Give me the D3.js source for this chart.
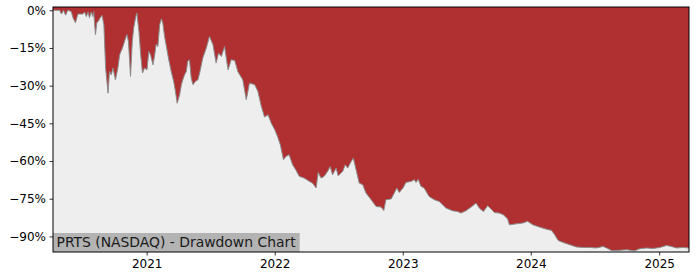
<!DOCTYPE html>
<meta charset="utf-8">
<style>
    body { margin: 0; background: #ffffff; }
    svg text { font-family: "DejaVu Sans", sans-serif; }
</style>

<!-- Load d3.js -->
<script src="https://d3js.org/d3.v7.min.js"></script>

<div id="chart"></div>

<script>
    // drawdown from running peak, percent
    var dates = [
        "2020-04-09", "2020-04-28", "2020-05-03", "2020-05-09", "2020-05-15", "2020-05-21", "2020-05-31",
        "2020-06-05", "2020-06-12", "2020-06-19", "2020-07-03", "2020-07-08", "2020-07-13", "2020-07-18",
        "2020-07-22", "2020-07-27", "2020-08-01", "2020-08-03", "2020-08-08", "2020-08-12", "2020-08-17",
        "2020-08-21", "2020-08-27", "2020-09-01", "2020-09-06", "2020-09-13", "2020-09-17", "2020-09-22",
        "2020-09-27", "2020-10-04", "2020-10-11", "2020-10-16", "2020-10-24", "2020-10-27", "2020-11-02",
        "2020-11-06", "2020-11-10", "2020-11-16", "2020-11-21", "2020-11-25", "2020-12-01", "2020-12-04",
        "2020-12-10", "2020-12-15", "2020-12-20", "2020-12-26", "2021-01-02", "2021-01-07", "2021-01-12",
        "2021-01-19", "2021-01-24", "2021-01-28", "2021-02-02", "2021-02-07", "2021-02-12", "2021-02-16",
        "2021-02-21", "2021-02-27", "2021-03-05", "2021-03-12", "2021-03-19", "2021-03-24", "2021-03-29",
        "2021-04-05", "2021-04-10", "2021-04-14", "2021-04-19", "2021-04-24", "2021-04-28", "2021-05-03",
        "2021-05-08", "2021-05-13", "2021-05-20", "2021-05-27", "2021-06-01", "2021-06-10", "2021-06-20",
        "2021-06-29", "2021-07-09", "2021-07-18", "2021-07-25", "2021-08-02", "2021-08-11", "2021-08-21",
        "2021-08-30", "2021-09-09", "2021-09-18", "2021-10-02", "2021-10-12", "2021-10-21", "2021-11-05",
        "2021-11-14", "2021-11-24", "2021-12-03", "2021-12-13", "2021-12-22", "2022-01-01", "2022-01-09",
        "2022-01-17", "2022-01-26", "2022-02-02", "2022-02-11", "2022-02-21", "2022-03-02", "2022-03-12",
        "2022-03-26", "2022-04-10", "2022-04-19", "2022-04-29", "2022-05-05", "2022-05-13", "2022-05-22",
        "2022-06-01", "2022-06-08", "2022-06-15", "2022-06-25", "2022-07-01", "2022-07-09", "2022-07-14",
        "2022-07-21", "2022-07-28", "2022-08-07", "2022-08-13", "2022-08-21", "2022-08-30", "2022-09-09",
        "2022-09-18", "2022-10-03", "2022-10-17", "2022-10-31", "2022-11-08", "2022-11-14", "2022-11-29",
        "2022-12-08", "2022-12-15", "2022-12-22", "2023-01-02", "2023-01-10", "2023-01-25", "2023-02-03",
        "2023-02-08", "2023-02-14", "2023-02-22", "2023-03-03", "2023-03-17", "2023-04-01", "2023-04-15",
        "2023-05-04", "2023-05-23", "2023-06-06", "2023-06-16", "2023-06-30", "2023-07-15", "2023-07-29",
        "2023-08-07", "2023-08-19", "2023-08-31", "2023-09-10", "2023-09-19", "2023-10-03", "2023-10-15",
        "2023-10-27", "2023-11-01", "2023-11-20", "2023-12-09", "2023-12-23", "2024-01-07", "2024-01-26",
        "2024-02-14", "2024-02-29", "2024-03-09", "2024-03-19", "2024-04-02", "2024-04-21", "2024-05-10",
        "2024-05-29", "2024-06-17", "2024-07-06", "2024-07-25", "2024-08-04", "2024-08-18", "2024-09-01",
        "2024-09-30", "2024-10-23", "2024-11-07", "2024-11-26", "2024-12-15", "2025-01-03", "2025-01-22",
        "2025-02-05", "2025-02-19", "2025-03-10", "2025-03-27"
    ];
    var drawdown = [
        0, 0, -1.5, 0, -2, 0, -0.5,
        -3, -5, -1.5, -1.5, -0.7, -2.5, -0.7,
        -3, -0.7, -2.5, -0.5, -9.7, -5, -4.2,
        -3.1, -2, -5.8, -23, -33, -24.4, -25.7,
        -23, -27.7, -23, -17.7, -15, -13.7, -11,
        -9.7, -12.4, -26.3, -12.4, -7.1, -2.5, -1.1,
        -8.4, -17.7, -25, -23, -23.7, -16.4, -17.7,
        -21.7, -17.7, -13.5, -14.4, -5.8, -3.4, -5.1,
        -10.4, -15, -19.7, -24.4, -28.3, -32.3, -37,
        -33.6, -29.6, -27.7, -25.7, -24.4, -20.4, -19.7,
        -27, -29.6, -28.3, -27.7, -25, -19, -15,
        -10.4, -13.7, -21, -17, -18.4, -14.4, -23.7,
        -19.7, -20, -24.4, -27.7, -35.6, -29, -29.6,
        -32.3, -38.3, -42.5, -41.6, -44.9, -47.5, -50.2,
        -53.5, -59.5, -58.2, -57.5, -61.5, -63.5, -66.1,
        -66.8, -68.1, -68.8, -70.7, -64.5, -66.8, -66.1,
        -64.1, -62.2, -65.5, -62.8, -65.9, -64.8, -64.1,
        -61.5, -62.8, -60.2, -58.8, -63.5, -68.8, -69.4,
        -72.7, -75.4, -78.1, -78.3, -79.7, -75.4, -75.1,
        -72.7, -70.7, -72.5, -70.7, -68.5, -68.1, -67.4,
        -68.5, -67.2, -70.1, -70.7, -74.1, -75.4, -76.1,
        -78.7, -79.8, -80.1, -80.7, -79.8, -78.3, -76.7,
        -78.7, -80.1, -77.8, -79.1, -80.5, -80.7, -81.4,
        -83.1, -85.4, -85, -84.7, -84, -85.4, -86.3,
        -87.1, -87.6, -89.3, -91.6, -92.4, -93.3, -94.2,
        -94.4, -94.4, -94.6, -94, -94.6, -95.6, -95.6,
        -95.3, -95.7, -94.9, -94.6, -94.8, -94.4, -93.6,
        -94, -94.6, -94.4, -94.6
    ];
    var yTicks = [0, -15, -30, -45, -60, -75, -90];
    var xTicks = ["2021-01-01", "2022-01-01", "2023-01-01", "2024-01-01", "2025-01-01"];
    var title = "PRTS (NASDAQ) - Drawdown Chart";

    var parse = d3.timeParse("%Y-%m-%d");
    var data = dates.map(function (d, i) { return { date: parse(d), dd: drawdown[i] }; });

    var margin = { top: 7, right: 11, bottom: 28, left: 53 },
        width = 700 - margin.left - margin.right,
        height = 280 - margin.top - margin.bottom;

    var svg = d3.select("#chart")
        .append("svg")
        .attr("width", 700)
        .attr("height", 280)
        .append("g")
        .attr("transform", "translate(" + margin.left + "," + margin.top + ")");

    var x = d3.scaleTime()
        .domain(d3.extent(data, function (d) { return d.date; }))
        .range([0, width]);

    var y = d3.scaleLinear()
        .domain([-96.2, 1.3])
        .range([height, 0]);

    // red everywhere above the curve, light grey below it
    svg.append("rect")
        .attr("width", width)
        .attr("height", height)
        .style("fill", "#b03032");

    var area = d3.area()
        .x(function (d) { return x(d.date); })
        .y0(height)
        .y1(function (d) { return y(d.dd); });

    svg.append("path")
        .datum(data)
        .attr("d", area)
        .style("fill", "#eeeeee");

    var line = d3.line()
        .x(function (d) { return x(d.date); })
        .y(function (d) { return y(d.dd); });

    svg.append("path")
        .datum(data)
        .attr("d", line)
        .style("fill", "none")
        .attr("stroke", "#8c8c8c")
        .attr("stroke-width", 1);

    // title label in the lower left corner
    var label = svg.append("g");
    var labelText = label.append("text")
        .attr("x", 3.5)
        .attr("y", height - 5)
        .attr("font-size", "13.9px")
        .attr("fill", "#1a1a1a")
        .text(title);
    var bb = labelText.node().getBBox();
    label.insert("rect", "text")
        .attr("x", 0)
        .attr("y", height - 19)
        .attr("width", bb.width + 7)
        .attr("height", 19)
        .style("fill", "#b3b3b3");

    // axes
    var yAxis = svg.append("g")
        .call(d3.axisLeft(y)
            .tickValues(yTicks)
            .tickSize(3.5)
            .tickPadding(3.5)
            .tickFormat(function (d) { return (d < 0 ? "\u2212" + (-d) : d) + "%"; }));

    var xAxis = svg.append("g")
        .attr("transform", "translate(0," + height + ")")
        .call(d3.axisBottom(x)
            .tickValues(xTicks.map(parse))
            .tickSize(3.5)
            .tickPadding(3.5)
            .tickFormat(d3.timeFormat("%Y")));

    svg.selectAll(".tick text")
        .attr("font-size", "12px")
        .attr("font-family", "DejaVu Sans, sans-serif")
        .attr("fill", "#000");
    svg.selectAll(".tick line").attr("stroke", "#000").attr("stroke-width", 0.8);
    svg.selectAll(".domain").remove();

    // frame around the plot
    svg.append("rect")
        .attr("width", width)
        .attr("height", height)
        .style("fill", "none")
        .attr("stroke", "#000")
        .attr("stroke-width", 1);
</script>
